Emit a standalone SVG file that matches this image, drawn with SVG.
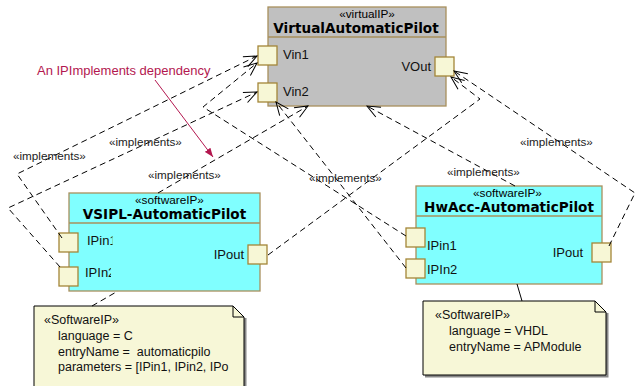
<svg xmlns="http://www.w3.org/2000/svg" width="636" height="386" viewBox="0 0 636 386">
<style>
.box{stroke:#a8905c;stroke-width:1.3}
.virt{fill:#c0c0c0}
.sw{fill:#80ffff}
.port{fill:#f7f7d6;stroke:#a48638;stroke-width:1.3}
.st{font-family:"Liberation Sans",Arial,sans-serif;font-size:11.8px;fill:#000;text-anchor:middle}
.nm{font-family:"DejaVu Sans",Verdana,sans-serif;font-weight:bold;font-size:13.6px;fill:#000;text-anchor:middle}
.pl{font-family:"Liberation Sans",Arial,sans-serif;font-size:13px;fill:#111}
.lbl{font-family:"Liberation Sans",Arial,sans-serif;font-size:11.7px;fill:#222}
.nt{font-family:"Liberation Sans",Arial,sans-serif;font-size:12.5px;fill:#111}
.dep{fill:none;stroke:#000;stroke-width:1;stroke-dasharray:6 4;marker-end:url(#open)}
.note{fill:#f7f7d7;stroke:#000;stroke-width:1}
.shadow{fill:#888}
.red{font-family:"Liberation Sans",Arial,sans-serif;font-size:13px;fill:#b3174f}
</style>
<defs>
<marker id="open" markerUnits="userSpaceOnUse" markerWidth="16" markerHeight="14" refX="14" refY="7" orient="auto" viewBox="0 0 16 14">
<path d="M1,1.5 L14,7 L1,12.5" fill="none" stroke="#000" stroke-width="1" stroke-dasharray="none"/>
</marker>
<marker id="redarrow" markerUnits="userSpaceOnUse" markerWidth="10" markerHeight="8" refX="9" refY="4" orient="auto" viewBox="0 0 10 8">
<path d="M0,0.5 L9,4 L0,7.5 Z" fill="#b3174f" stroke="none"/>
</marker>
<clipPath id="clipIn1"><rect x="60" y="230" width="52.5" height="22"/></clipPath>
<clipPath id="clipIn2"><rect x="60" y="262" width="51" height="22"/></clipPath>
</defs>

<g id="virtualAutomaticPilot">
<rect class="box virt" x="268" y="7" width="178" height="99"/>
<line class="box" x1="268" y1="37" x2="446" y2="37"/>
<text class="st" x="367" y="17.5">«virtualIP»</text>
<text class="nm" x="356" y="33">VirtualAutomaticPilot</text>
<rect class="port" x="258" y="46" width="19" height="19"/>
<rect class="port" x="258" y="83" width="19" height="19"/>
<rect class="port" x="435" y="57" width="19" height="19"/>
<text class="pl" x="283" y="59">Vin1</text>
<text class="pl" x="283" y="96">Vin2</text>
<text class="pl" x="431" y="71" text-anchor="end">VOut</text>
</g>

<g id="vsiplAutomaticPilot">
<rect class="box sw" x="69" y="193" width="191" height="98"/>
<line class="box" x1="69" y1="223" x2="260" y2="223"/>
<text class="st" x="169.5" y="204">«softwareIP»</text>
<text class="nm" x="164.5" y="219">VSIPL-AutomaticPilot</text>
<rect class="port" x="59" y="233" width="19" height="19"/>
<rect class="port" x="59" y="267" width="19" height="19"/>
<rect class="port" x="248" y="245" width="19" height="19"/>
<text class="pl" x="87" y="245" clip-path="url(#clipIn1)">IPin1</text>
<text class="pl" x="85" y="277" clip-path="url(#clipIn2)">IPIn2</text>
<text class="pl" x="244" y="259" text-anchor="end">IPout</text>
</g>

<g id="hwAccAutomaticPilot">
<rect class="box sw" x="416" y="186" width="186" height="98"/>
<line class="box" x1="416" y1="216" x2="602" y2="216"/>
<text class="st" x="507.5" y="196.5">«softwareIP»</text>
<text class="nm" x="509" y="212">HwAcc-AutomaticPilot</text>
<rect class="port" x="406" y="228" width="19" height="19"/>
<rect class="port" x="406" y="259" width="19" height="19"/>
<rect class="port" x="592" y="243" width="19" height="19"/>
<text class="pl" x="427" y="250">IPin1</text>
<text class="pl" x="427" y="274">IPIn2</text>
<text class="pl" x="583" y="257" text-anchor="end">IPout</text>
</g>

<g id="note1">
<path class="shadow" d="M244,318 H246.5 V390 H36 V386 Z"/>
<path class="note" d="M34,306 H233 L244,317 V400 H34 Z"/>
<path d="M233,306 V317 H244" fill="none" stroke="#000" stroke-width="1"/>
<text class="nt" x="44" y="324">«SoftwareIP»</text>
<text class="nt" x="58" y="340">language = C</text>
<text class="nt" x="58" y="355.5" xml:space="preserve">entryName =  automaticpilo</text>
<text class="nt" x="58" y="371">parameters = [IPin1, IPin2, IPo</text>
</g>

<g id="note2">
<path class="shadow" d="M606,313 H608.5 V377.5 H425 V375 H606 Z"/>
<path class="note" d="M423,301 H595 L606,312 V375 H423 Z"/>
<path d="M595,301 V312 H606" fill="none" stroke="#000" stroke-width="1"/>
<text class="nt" x="435" y="319">«SoftwareIP»</text>
<text class="nt" x="449" y="335">language = VHDL</text>
<text class="nt" x="449" y="351">entryName = APModule</text>
</g>

<g id="annotation">
<text class="red" x="37" y="75">An IPImplements dependency</text>
<line x1="155" y1="80" x2="213" y2="157" stroke="#b3174f" stroke-width="1" marker-end="url(#redarrow)"/>
</g>

<g id="connectors">
<polyline class="dep" points="62,238 17,174 257,56"/>
<polyline class="dep" points="60,267 8,208 257,92"/>
<polyline class="dep" points="158,193 308,106"/>
<polyline class="dep" points="268,255 480,99 451,77"/>
<polyline class="dep" points="406,236 203,107 257,63"/>
<polyline class="dep" points="406,268 276,102"/>
<polyline class="dep" points="515,186 367,106"/>
<polyline class="dep" points="609,246 635,193 454,71"/>
<line x1="92" y1="306" x2="118" y2="291" stroke="#000" stroke-width="1" stroke-dasharray="6 4"/>
<line x1="517" y1="284" x2="522" y2="301" stroke="#000" stroke-width="1"/>
<text class="lbl" x="13" y="160">«implements»</text>
<text class="lbl" x="109" y="146">«implements»</text>
<text class="lbl" x="148" y="179">«implements»</text>
<text class="lbl" x="309" y="182">«implements»</text>
<text class="lbl" x="447" y="176">«implements»</text>
<text class="lbl" x="520" y="146">«implements»</text>
</g>
</svg>
